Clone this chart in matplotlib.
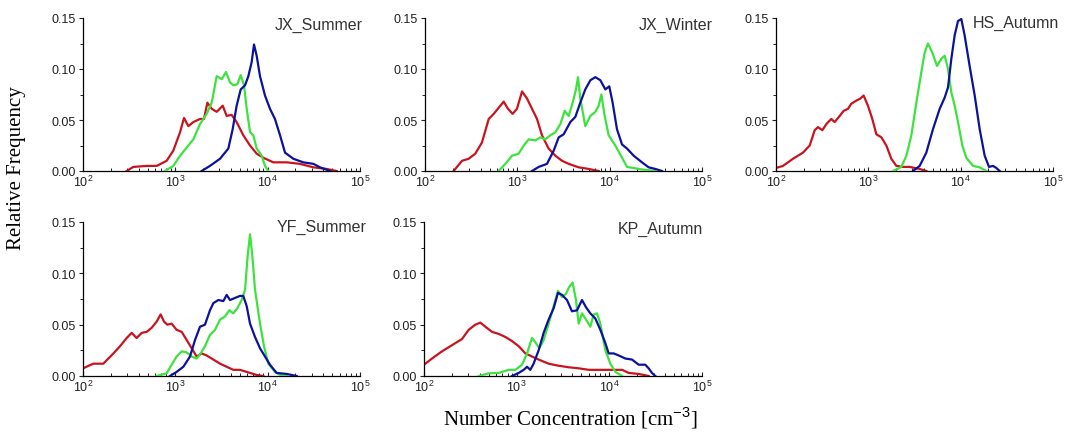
import numpy as np
import matplotlib
matplotlib.use("Agg")
import matplotlib.pyplot as plt
from matplotlib.ticker import MultipleLocator, LogLocator

plt.rcParams["font.family"] = ["Liberation Sans", "DejaVu Sans"]
plt.rcParams["mathtext.fontset"] = "custom"
plt.rcParams["mathtext.rm"] = "Liberation Sans"

RED = "#c8141e"
GREEN = "#3ee23e"
BLUE = "#0c129c"

# values, x as log10 of number concentration
jxs_red_x = [2.473, 2.545, 2.690, 2.798, 2.906, 2.978, 3.051, 3.094, 3.141, 3.195, 3.267, 3.310, 3.347, 3.394, 3.448, 3.513, 3.556, 3.610, 3.664, 3.736, 3.809, 3.881, 3.953, 4.061, 4.206, 4.350, 4.495, 4.639, 4.747]
jxs_red_y = [0.0, 0.004, 0.005, 0.005, 0.010, 0.020, 0.038, 0.052, 0.044, 0.048, 0.051, 0.051, 0.067, 0.061, 0.058, 0.064, 0.054, 0.055, 0.048, 0.035, 0.025, 0.017, 0.013, 0.0085, 0.0085, 0.007, 0.0036, 0.002, 0.0]
jxs_green_x = [2.888, 2.978, 3.051, 3.123, 3.195, 3.267, 3.339, 3.394, 3.448, 3.502, 3.549, 3.592, 3.628, 3.671, 3.708, 3.744, 3.773, 3.809, 3.845, 3.881, 3.935, 3.971, 4.007]
jxs_green_y = [0.0, 0.005, 0.015, 0.023, 0.031, 0.046, 0.056, 0.067, 0.093, 0.090, 0.097, 0.087, 0.084, 0.085, 0.094, 0.084, 0.061, 0.038, 0.035, 0.022, 0.015, 0.005, 0.0]
jxs_blue_x = [3.285, 3.375, 3.484, 3.574, 3.621, 3.664, 3.708, 3.755, 3.791, 3.827, 3.852, 3.881, 3.917, 3.971, 4.025, 4.079, 4.134, 4.188, 4.278, 4.386, 4.495, 4.567, 4.675]
jxs_blue_y = [0.0, 0.005, 0.012, 0.022, 0.041, 0.064, 0.080, 0.084, 0.093, 0.107, 0.124, 0.113, 0.093, 0.074, 0.061, 0.051, 0.035, 0.018, 0.012, 0.0085, 0.007, 0.0036, 0.0]

jxw_red_x = [2.310, 2.401, 2.473, 2.545, 2.617, 2.690, 2.744, 2.798, 2.852, 2.899, 2.949, 2.996, 3.051, 3.105, 3.159, 3.213, 3.267, 3.339, 3.412, 3.484, 3.556, 3.664, 3.773, 3.881]
jxw_red_y = [0.0, 0.010, 0.012, 0.017, 0.028, 0.051, 0.056, 0.062, 0.068, 0.061, 0.056, 0.061, 0.078, 0.071, 0.061, 0.051, 0.035, 0.022, 0.015, 0.010, 0.007, 0.0036, 0.002, 0.0]
jxw_green_x = [2.798, 2.870, 2.942, 3.014, 3.069, 3.123, 3.195, 3.249, 3.303, 3.357, 3.412, 3.466, 3.513, 3.556, 3.599, 3.635, 3.657, 3.682, 3.736, 3.791, 3.845, 3.881, 3.910, 3.946, 3.989, 4.061, 4.134, 4.188, 4.350, 4.495]
jxw_green_y = [0.0, 0.007, 0.015, 0.017, 0.025, 0.031, 0.030, 0.033, 0.031, 0.035, 0.038, 0.046, 0.059, 0.054, 0.067, 0.080, 0.092, 0.071, 0.044, 0.054, 0.058, 0.064, 0.075, 0.054, 0.035, 0.025, 0.013, 0.004, 0.0015, 0.0]
jxw_blue_x = [3.159, 3.231, 3.321, 3.394, 3.448, 3.502, 3.574, 3.628, 3.682, 3.736, 3.791, 3.845, 3.899, 3.953, 3.996, 4.032, 4.079, 4.134, 4.188, 4.260, 4.350, 4.422, 4.495, 4.567]
jxw_blue_y = [0.0, 0.004, 0.007, 0.020, 0.033, 0.036, 0.048, 0.053, 0.067, 0.080, 0.089, 0.092, 0.089, 0.080, 0.083, 0.067, 0.041, 0.026, 0.022, 0.015, 0.0085, 0.0036, 0.002, 0.0]

hsa_red_x = [2.0, 2.076, 2.184, 2.292, 2.365, 2.419, 2.455, 2.502, 2.545, 2.599, 2.635, 2.690, 2.733, 2.780, 2.816, 2.870, 2.913, 2.949, 2.996, 3.043, 3.087, 3.141, 3.195, 3.249, 3.303, 3.375, 3.448, 3.556, 3.628]
hsa_red_y = [0.003, 0.005, 0.012, 0.018, 0.025, 0.040, 0.043, 0.040, 0.046, 0.051, 0.048, 0.054, 0.059, 0.061, 0.066, 0.069, 0.071, 0.074, 0.064, 0.051, 0.036, 0.033, 0.025, 0.012, 0.005, 0.004, 0.004, 0.002, 0.0]
hsa_green_x = [3.267, 3.357, 3.412, 3.466, 3.520, 3.574, 3.610, 3.646, 3.693, 3.744, 3.791, 3.827, 3.863, 3.899, 3.935, 3.971, 4.018, 4.061, 4.134, 4.206, 4.278]
hsa_green_y = [0.0, 0.004, 0.015, 0.035, 0.067, 0.097, 0.116, 0.125, 0.116, 0.103, 0.110, 0.113, 0.100, 0.077, 0.064, 0.048, 0.025, 0.013, 0.005, 0.0036, 0.0]
hsa_blue_x = [3.484, 3.556, 3.628, 3.700, 3.773, 3.827, 3.863, 3.899, 3.935, 3.971, 4.007, 4.043, 4.097, 4.152, 4.206, 4.260, 4.307, 4.350, 4.386, 4.422]
hsa_blue_y = [0.0, 0.005, 0.018, 0.041, 0.061, 0.072, 0.082, 0.110, 0.133, 0.147, 0.149, 0.133, 0.103, 0.074, 0.041, 0.015, 0.004, 0.005, 0.003, 0.0]

yfs_red_x = [2.0, 2.112, 2.220, 2.329, 2.401, 2.473, 2.527, 2.581, 2.635, 2.690, 2.744, 2.798, 2.841, 2.877, 2.913, 2.960, 3.014, 3.069, 3.123, 3.177, 3.231, 3.285, 3.339, 3.412, 3.484, 3.556, 3.628, 3.700, 3.773, 3.881, 3.953]
yfs_red_y = [0.0075, 0.012, 0.012, 0.022, 0.029, 0.037, 0.042, 0.037, 0.042, 0.043, 0.047, 0.053, 0.060, 0.053, 0.050, 0.051, 0.045, 0.043, 0.035, 0.027, 0.019, 0.022, 0.020, 0.016, 0.012, 0.009, 0.006, 0.006, 0.004, 0.001, 0.0]
yfs_green_x = [2.798, 2.906, 2.960, 3.014, 3.069, 3.123, 3.177, 3.231, 3.274, 3.321, 3.375, 3.430, 3.484, 3.538, 3.585, 3.628, 3.671, 3.718, 3.755, 3.783, 3.809, 3.834, 3.863, 3.917, 3.960, 4.007, 4.079, 4.134, 4.206]
yfs_green_y = [0.0, 0.0026, 0.011, 0.019, 0.024, 0.023, 0.019, 0.017, 0.022, 0.029, 0.040, 0.045, 0.055, 0.058, 0.064, 0.061, 0.066, 0.074, 0.084, 0.117, 0.138, 0.117, 0.084, 0.051, 0.029, 0.012, 0.004, 0.001, 0.0]
yfs_blue_x = [2.942, 3.014, 3.087, 3.159, 3.213, 3.267, 3.321, 3.375, 3.412, 3.466, 3.520, 3.556, 3.592, 3.646, 3.700, 3.736, 3.773, 3.809, 3.863, 3.917, 3.971, 4.025, 4.097, 4.206, 4.314]
yfs_blue_y = [0.0, 0.004, 0.009, 0.019, 0.035, 0.048, 0.050, 0.064, 0.071, 0.074, 0.073, 0.079, 0.074, 0.076, 0.078, 0.078, 0.068, 0.051, 0.038, 0.027, 0.019, 0.011, 0.003, 0.002, 0.0]

kpa_red_x = [2.0, 2.086, 2.194, 2.302, 2.410, 2.482, 2.554, 2.608, 2.662, 2.734, 2.806, 2.878, 2.950, 3.022, 3.094, 3.165, 3.237, 3.345, 3.453, 3.561, 3.669, 3.777, 3.885, 3.993, 4.137, 4.209, 4.317, 4.424]
kpa_red_y = [0.011, 0.017, 0.024, 0.030, 0.036, 0.045, 0.050, 0.052, 0.048, 0.043, 0.041, 0.038, 0.034, 0.029, 0.022, 0.019, 0.016, 0.012, 0.010, 0.0085, 0.0075, 0.006, 0.006, 0.006, 0.006, 0.003, 0.002, 0.0]
kpa_green_x = [2.590, 2.698, 2.806, 2.914, 2.986, 3.058, 3.112, 3.165, 3.201, 3.245, 3.291, 3.345, 3.399, 3.446, 3.489, 3.532, 3.568, 3.604, 3.640, 3.669, 3.705, 3.748, 3.795, 3.831, 3.867, 3.903, 3.957, 4.011, 4.065, 4.137]
kpa_green_y = [0.0, 0.0026, 0.003, 0.006, 0.006, 0.011, 0.022, 0.037, 0.033, 0.027, 0.035, 0.051, 0.068, 0.083, 0.077, 0.080, 0.087, 0.091, 0.074, 0.051, 0.061, 0.055, 0.048, 0.060, 0.061, 0.051, 0.025, 0.012, 0.004, 0.0]
kpa_blue_x = [2.950, 3.022, 3.076, 3.112, 3.147, 3.183, 3.237, 3.291, 3.345, 3.399, 3.446, 3.489, 3.543, 3.597, 3.651, 3.705, 3.748, 3.795, 3.849, 3.903, 3.957, 3.993, 4.047, 4.101, 4.173, 4.245, 4.317, 4.388, 4.424, 4.460, 4.496]
kpa_blue_y = [0.0, 0.003, 0.006, 0.009, 0.006, 0.012, 0.025, 0.042, 0.055, 0.066, 0.081, 0.079, 0.074, 0.063, 0.064, 0.074, 0.067, 0.061, 0.056, 0.045, 0.032, 0.022, 0.022, 0.020, 0.017, 0.016, 0.011, 0.011, 0.0075, 0.003, 0.0]

titles = ["JX_Summer", "JX_Winter", "HS_Autumn", "YF_Summer", "KP_Autumn"]
series = [
    [(jxs_red_x, jxs_red_y), (jxs_green_x, jxs_green_y), (jxs_blue_x, jxs_blue_y)],
    [(jxw_red_x, jxw_red_y), (jxw_green_x, jxw_green_y), (jxw_blue_x, jxw_blue_y)],
    [(hsa_red_x, hsa_red_y), (hsa_green_x, hsa_green_y), (hsa_blue_x, hsa_blue_y)],
    [(yfs_red_x, yfs_red_y), (yfs_green_x, yfs_green_y), (yfs_blue_x, yfs_blue_y)],
    [(kpa_red_x, kpa_red_y), (kpa_green_x, kpa_green_y), (kpa_blue_x, kpa_blue_y)],
]

W, H = 1067, 435
# axes boxes in pixels: left, top(0.15), right(1e5), bottom(0.00)
boxes = [(83, 19, 360, 172), (425, 19, 702, 172), (776, 19, 1053, 172),
         (83, 223, 360, 377), (424, 223, 702, 377)]
title_x = [1.008, 1.038, 1.02, 1.022, 1.005]
title_y = [0.96, 0.96, 0.97, 0.97, 0.96]

fig = plt.figure(figsize=(W / 100, H / 100), dpi=100)
for i in range(5):
    l, t, r, b = boxes[i]
    ax = fig.add_axes([l / W, 1 - b / H, (r - l) / W, (b - t) / H])
    for (xs, ys), c in zip(series[i], [RED, GREEN, BLUE]):
        ax.plot(10 ** np.array(xs), ys, color=c, lw=1.6, zorder=3 if c != RED else 2)
    ax.set_xscale("log")
    ax.set_xlim(1e2, 1e5)
    ax.set_ylim(0, 0.15)
    ax.xaxis.set_major_locator(LogLocator(base=10, numticks=5))
    ax.xaxis.set_minor_locator(LogLocator(base=10, subs=np.arange(2, 10), numticks=20))
    ax.yaxis.set_major_locator(MultipleLocator(0.05))
    ax.yaxis.set_minor_locator(MultipleLocator(0.025))
    ax.yaxis.set_major_formatter(plt.FormatStrFormatter("%.2f"))
    ax.spines["top"].set_visible(False)
    ax.spines["right"].set_visible(False)
    for s in ["left", "bottom"]:
        ax.spines[s].set_linewidth(0.9)
    ax.tick_params(axis="both", which="major", labelsize=9, length=3, width=0.8, pad=2, colors="#222222")
    ax.tick_params(axis="x", which="both", direction="in")
    ax.tick_params(axis="x", which="minor", length=2, width=0.6)
    ax.tick_params(axis="y", which="minor", direction="out", length=2, width=0.6)
    ax.text(title_x[i], title_y[i], titles[i], transform=ax.transAxes, ha="right", va="center",
            fontsize=11.5, color="#333333")

fig.text(17 / W, 1 - 168 / H, "Relative Frequency", rotation=90, ha="center", va="center",
         family="Liberation Serif", fontsize=15)
fig.text(570 / W, 1 - 418 / H, "Number Concentration [cm$^{-3}$]", ha="center", va="center",
         family="Liberation Serif", fontsize=15)

fig.savefig("out.png", dpi=100)
